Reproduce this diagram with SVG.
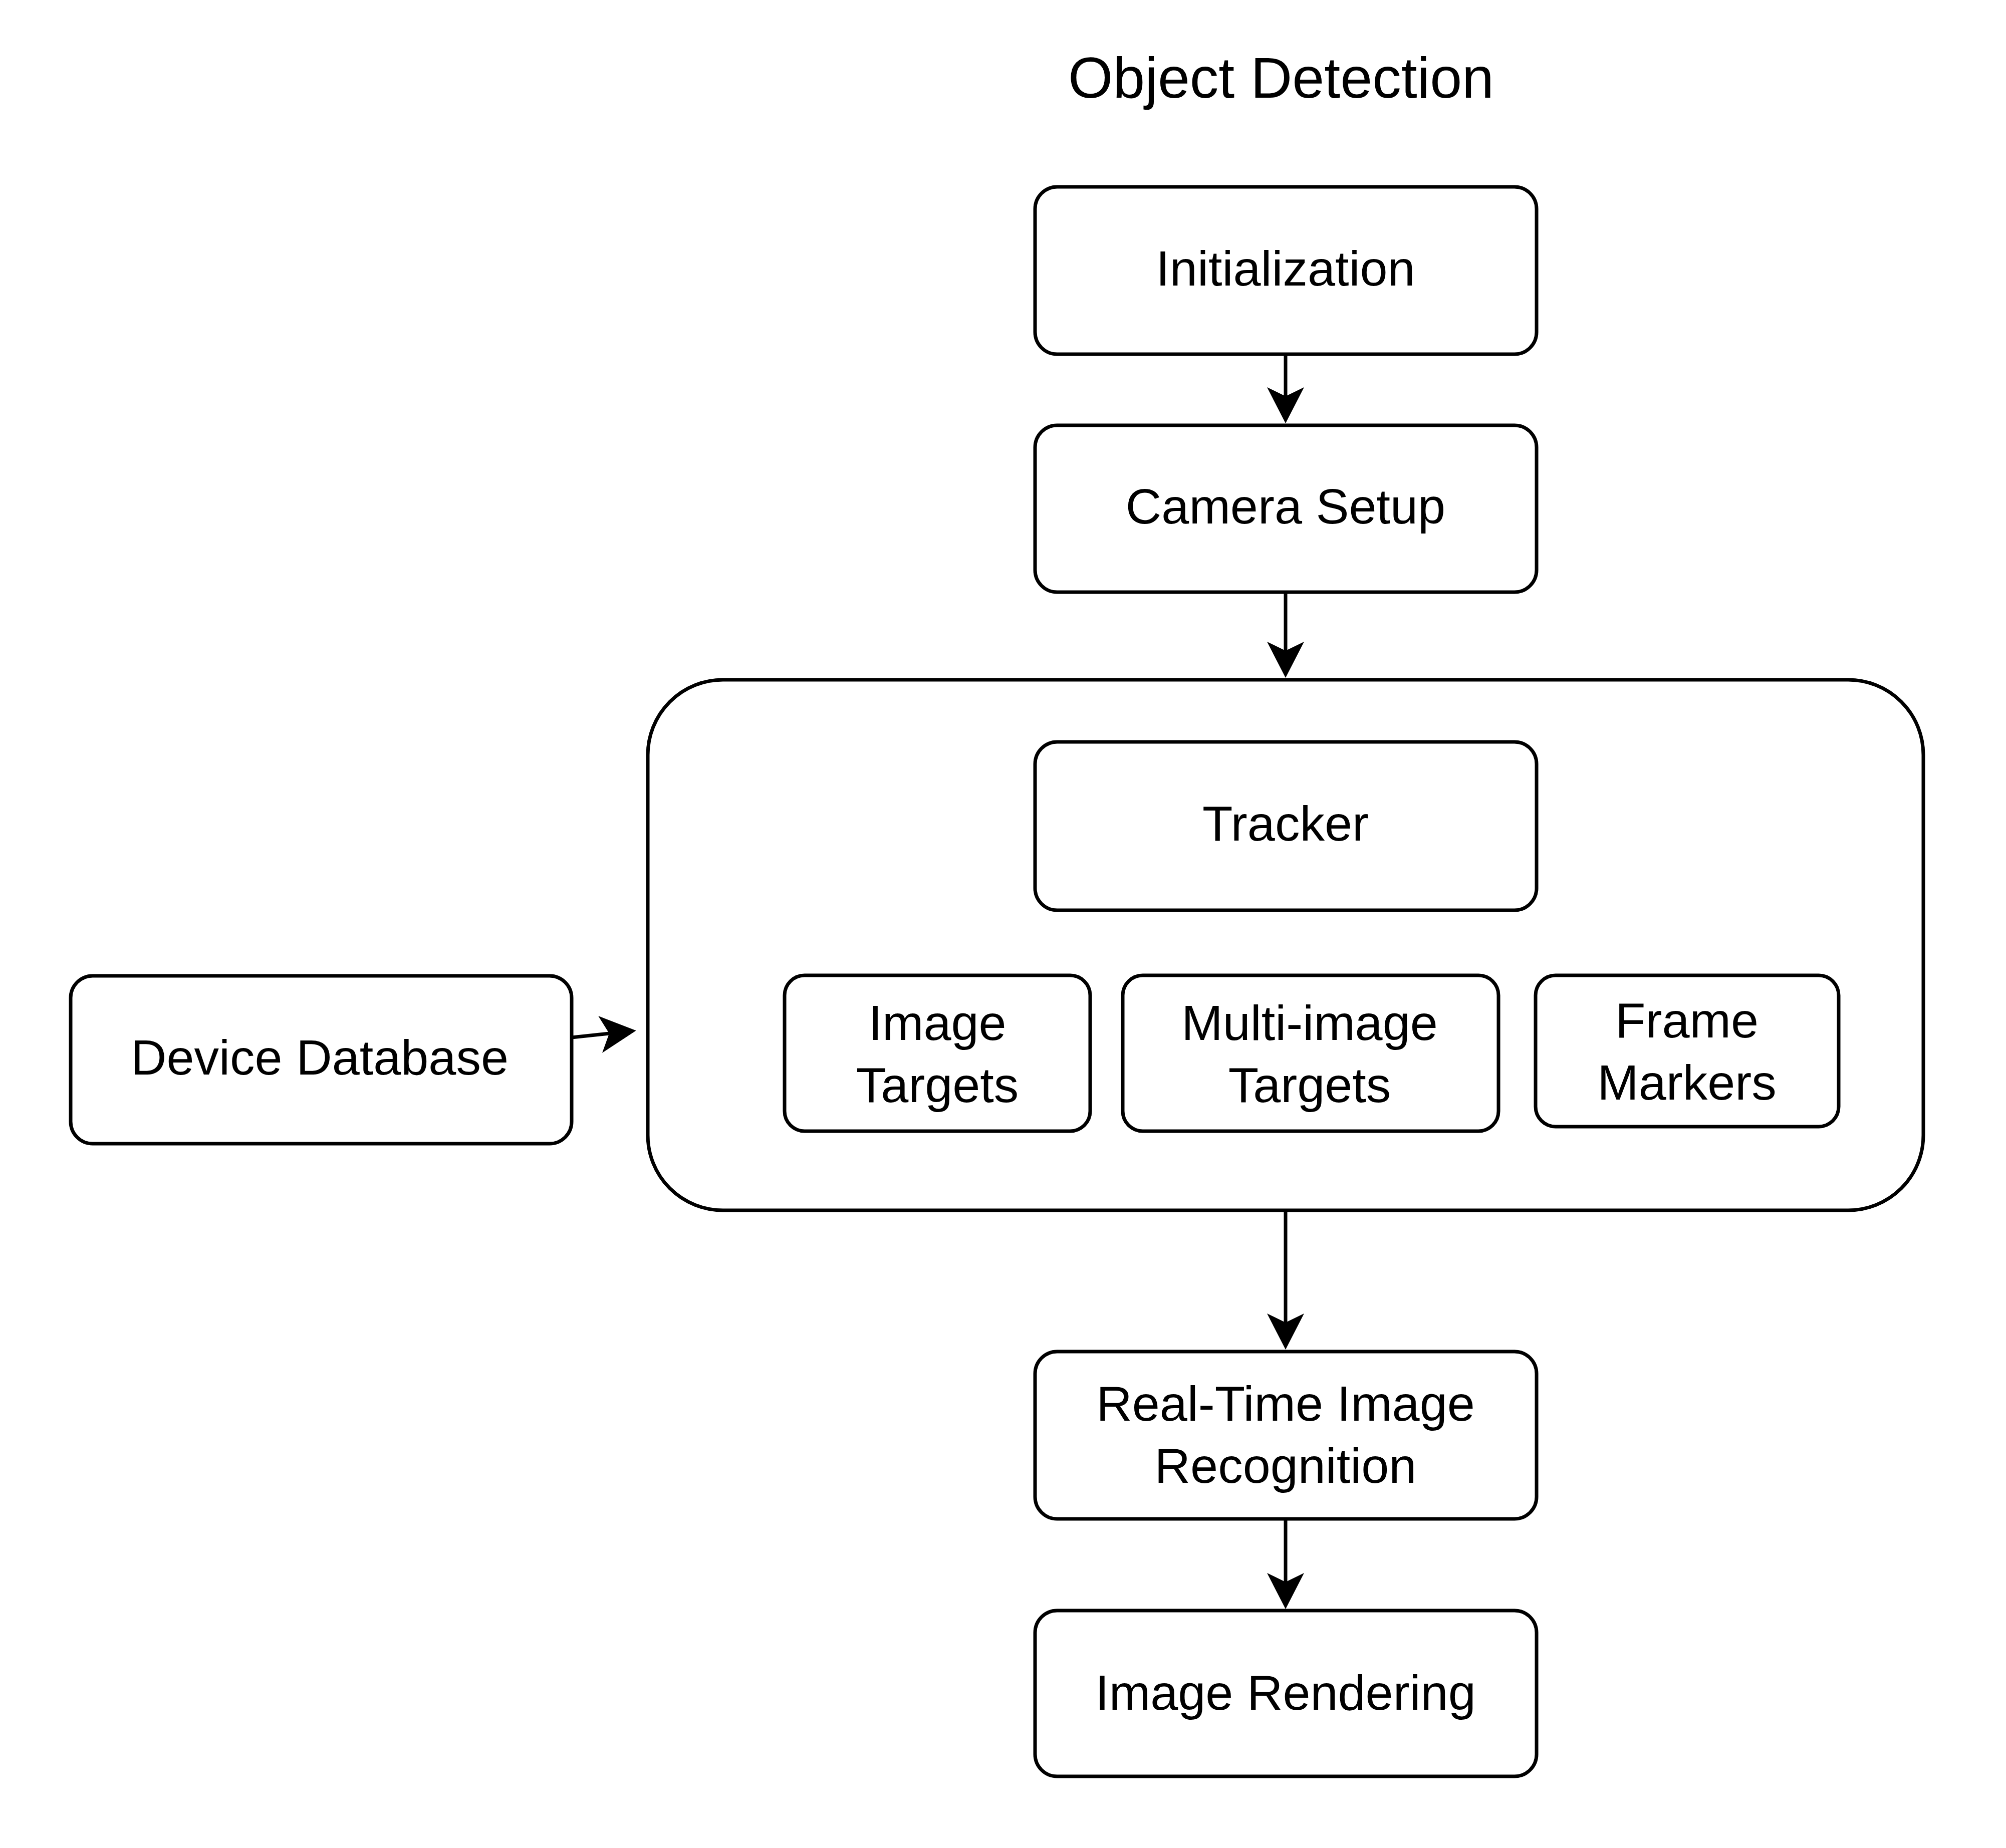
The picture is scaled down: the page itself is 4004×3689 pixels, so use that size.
<svg xmlns="http://www.w3.org/2000/svg" width="4004" height="3689" viewBox="0 0 4004 3689">
<defs>
<style>
.box{fill:#fff;stroke:#000;stroke-width:7}
.lbl{font-family:"Liberation Sans",Arial,Helvetica,sans-serif;font-size:99px;fill:#000;text-anchor:middle}
.title{font-family:"Liberation Sans",Arial,Helvetica,sans-serif;font-size:115px;fill:#000;text-anchor:middle}
.edge{fill:none;stroke:#000;stroke-width:7}
</style>
<marker id="arr" markerUnits="userSpaceOnUse" viewBox="0 0 72 74" markerWidth="72" markerHeight="74" refX="18" refY="37" orient="auto">
<path d="M0,0 L72,37 L0,74 L18,37 Z" fill="#000"/>
</marker>
</defs>
<rect width="4004" height="3689" fill="#fff"/>
<text class="title" x="2557" y="195">Object Detection</text>

<g id="container">
<rect class="box" x="1293" y="1357" width="2546" height="1059" rx="150" ry="150"/>
</g>
<g id="initialization">
<rect class="box" x="2066" y="373" width="1001" height="334" rx="44" ry="44"/>
<text class="lbl" x="2566" y="570">Initialization</text>
</g>
<g id="camera-setup">
<rect class="box" x="2066" y="849" width="1001" height="333" rx="44" ry="44"/>
<text class="lbl" x="2566" y="1045">Camera Setup</text>
</g>
<g id="tracker">
<rect class="box" x="2066" y="1481" width="1001" height="336" rx="44" ry="44"/>
<text class="lbl" x="2566" y="1678">Tracker</text>
</g>
<g id="image-targets">
<rect class="box" x="1566" y="1947" width="610" height="311" rx="40" ry="40"/>
<text class="lbl" x="1871" y="2076">Image</text>
<text class="lbl" x="1871" y="2200">Targets</text>
</g>
<g id="multi-image-targets">
<rect class="box" x="2241" y="1947" width="750" height="311" rx="40" ry="40"/>
<text class="lbl" x="2614" y="2076">Multi-image</text>
<text class="lbl" x="2614" y="2200">Targets</text>
</g>
<g id="frame-markers">
<rect class="box" x="3065" y="1947" width="605" height="302" rx="40" ry="40"/>
<text class="lbl" x="3367" y="2071">Frame</text>
<text class="lbl" x="3367" y="2195">Markers</text>
</g>
<g id="device-database">
<rect class="box" x="141" y="1948" width="1000" height="335" rx="44" ry="44"/>
<text class="lbl" x="638" y="2145">Device Database</text>
</g>
<g id="real-time-image-recognition">
<rect class="box" x="2066" y="2698" width="1001" height="334" rx="44" ry="44"/>
<text class="lbl" x="2566" y="2836">Real-Time Image</text>
<text class="lbl" x="2566" y="2960">Recognition</text>
</g>
<g id="image-rendering">
<rect class="box" x="2066" y="3215" width="1001" height="331" rx="44" ry="44"/>
<text class="lbl" x="2566" y="3413">Image Rendering</text>
</g>

<g id="connectors">
<line class="edge" x1="2566" y1="707" x2="2566" y2="791" marker-end="url(#arr)"/>
<line class="edge" x1="2566" y1="1182" x2="2566" y2="1299" marker-end="url(#arr)"/>
<line class="edge" x1="2566" y1="2416" x2="2566" y2="2640" marker-end="url(#arr)"/>
<line class="edge" x1="2566" y1="3032" x2="2566" y2="3158" marker-end="url(#arr)"/>
<line class="edge" x1="1141" y1="2071" x2="1216" y2="2063" marker-end="url(#arr)"/>
</g>
</svg>
